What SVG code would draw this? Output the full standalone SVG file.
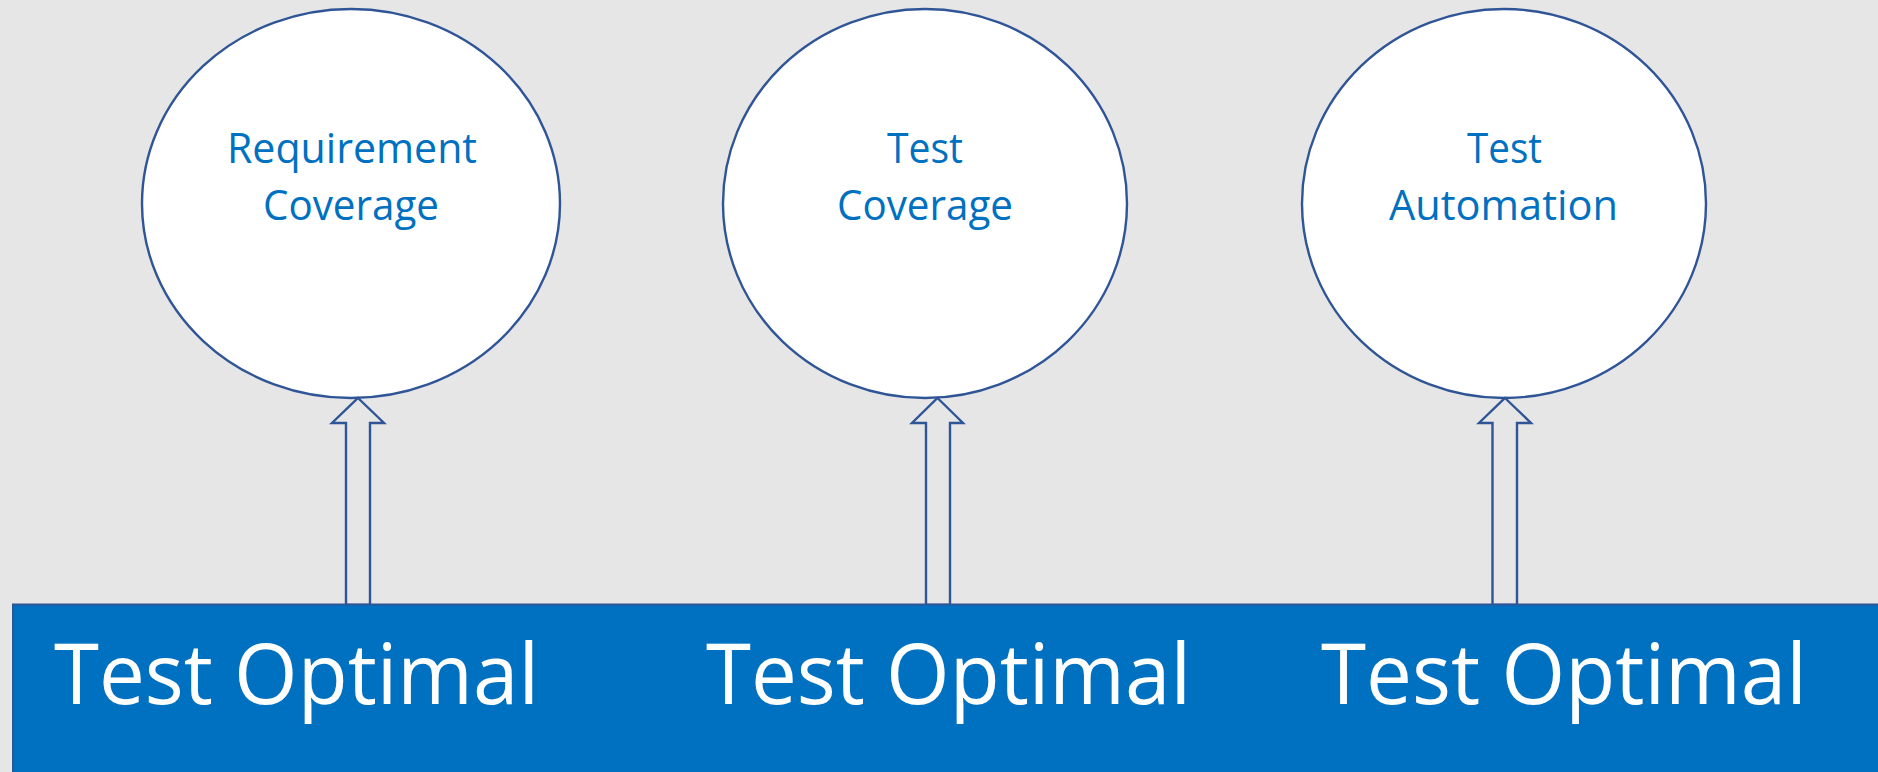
<svg xmlns="http://www.w3.org/2000/svg" width="1878" height="772" viewBox="0 0 1878 772">
  <style>
    .bg { fill: #E6E6E6; }
    .node { fill: #FFFFFF; stroke: #2F5597; stroke-width: 2.4; }
    .lbl { font-family: "Open Sans", "Noto Sans", "Liberation Sans", sans-serif; font-size: 42px; fill: #0070C0; text-anchor: middle; }
    .bar { fill: #0070C0; stroke: #2F5597; stroke-width: 2; }
    .big { font-family: "Open Sans", "Noto Sans", "Liberation Sans", sans-serif; font-size: 84px; fill: #FFFFFF; }
    .arrow { fill: #E6E6E6; stroke: #2F5597; stroke-width: 2.4; stroke-linejoin: miter; }
  </style>
  <rect class="bg" x="0" y="0" width="1878" height="772"/>

  <g id="node-requirement-coverage">
    <ellipse class="node" cx="351" cy="203.5" rx="209" ry="194.5"/>
    <text class="lbl" x="352" y="163" textLength="250" lengthAdjust="spacingAndGlyphs">Requirement</text>
    <text class="lbl" x="351" y="220" textLength="176" lengthAdjust="spacingAndGlyphs">Coverage</text>
  </g>

  <g id="node-test-coverage">
    <ellipse class="node" cx="925" cy="203.5" rx="202" ry="194.5"/>
    <text class="lbl" x="925" y="163" textLength="76" lengthAdjust="spacingAndGlyphs">Test</text>
    <text class="lbl" x="925" y="220" textLength="176" lengthAdjust="spacingAndGlyphs">Coverage</text>
  </g>

  <g id="node-test-automation">
    <ellipse class="node" cx="1504" cy="203.5" rx="202" ry="194.5"/>
    <text class="lbl" x="1504.5" y="163" textLength="75" lengthAdjust="spacingAndGlyphs">Test</text>
    <text class="lbl" x="1503.5" y="220" textLength="229" lengthAdjust="spacingAndGlyphs">Automation</text>
  </g>

  <g id="connectors">
    <path class="arrow" d="M358 398 L384 423 L370 423 L370 605 L346 605 L346 423 L332 423 Z"/>
    <path class="arrow" d="M937.5 398 L963 423 L950 423 L950 605 L926 605 L926 423 L912 423 Z"/>
    <path class="arrow" d="M1505 398 L1531 423 L1517 423 L1517 605 L1492.5 605 L1492.5 423 L1479 423 Z"/>
  </g>

  <g id="node-test-optimal-bar">
    <rect class="bar" x="13" y="604.5" width="1880" height="200"/>
    <text class="big" x="54" y="704" textLength="485" lengthAdjust="spacingAndGlyphs">Test Optimal</text>
    <text class="big" x="706" y="704" textLength="485" lengthAdjust="spacingAndGlyphs">Test Optimal</text>
    <text class="big" x="1321" y="704" textLength="486" lengthAdjust="spacingAndGlyphs">Test Optimal</text>
  </g>
</svg>
